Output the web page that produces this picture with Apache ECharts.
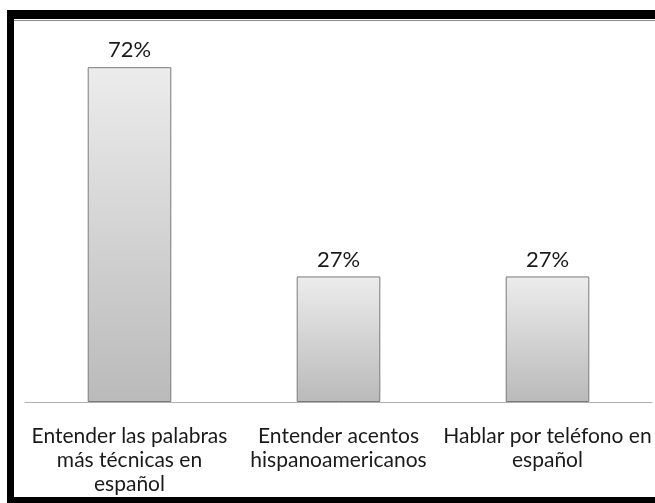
<!DOCTYPE html>
<html>
<head>
<meta charset="utf-8">
<script src="https://cdn.jsdelivr.net/npm/echarts@6/dist/echarts.min.js"></script>
<style>
  html, body { margin: 0; padding: 0; background: #fff; }
  #chart { width: 655px; height: 503px; }
</style>
</head>
<body>
<div id="chart"></div>
<script>
// data
const categories = [
  'Entender las palabras\nmás técnicas en\nespañol',
  'Entender acentos\nhispanoamericanos',
  'Hablar por teléfono en\nespañol'
];
const percentValues = [72, 27, 27];

const chart = echarts.init(document.getElementById('chart'));

const barFill = new echarts.graphic.LinearGradient(0, 0, 0, 1, [
  { offset: 0, color: '#ececec' },
  { offset: 1, color: '#bababa' }
]);

chart.setOption({
  animation: false,
  backgroundColor: '#fff',
  textStyle: { fontFamily: 'Lato' },
  grid: { left: 25, right: 3, top: 30, bottom: 101 },
  xAxis: {
    type: 'category',
    data: categories,
    axisLine: { lineStyle: { color: '#b0b0b0', width: 1 } },
    axisTick: { length: 7, lineStyle: { color: '#b0b0b0' } },
    axisLabel: {
      interval: 0,
      margin: 22,
      fontSize: 21,
      lineHeight: 24,
      color: '#1a1a1a',
      fontFamily: 'Lato'
    }
  },
  yAxis: { type: 'value', min: 0, max: 80, show: false },
  series: [{
    type: 'bar',
    data: percentValues,
    barWidth: '40%',
    itemStyle: { color: barFill, borderColor: '#7a7a7a', borderWidth: 1 },
    label: {
      show: true,
      position: 'top',
      distance: 6,
      formatter: '{c}%',
      fontSize: 22,
      color: '#1a1a1a',
      fontFamily: 'Lato'
    }
  }],
  // dark frame around the picture
  graphic: [
    { type: 'rect', shape: { x: 7, y: 10, width: 648, height: 9 }, style: { fill: '#000' } },
    { type: 'rect', shape: { x: 7, y: 10, width: 7, height: 493 }, style: { fill: '#000' } },
    { type: 'rect', shape: { x: 7, y: 497, width: 648, height: 6 }, style: { fill: '#000' } },
    { type: 'rect', shape: { x: 14, y: 20, width: 641, height: 1 }, style: { fill: '#8c8c8c' } }
  ]
});
</script>
</body>
</html>
